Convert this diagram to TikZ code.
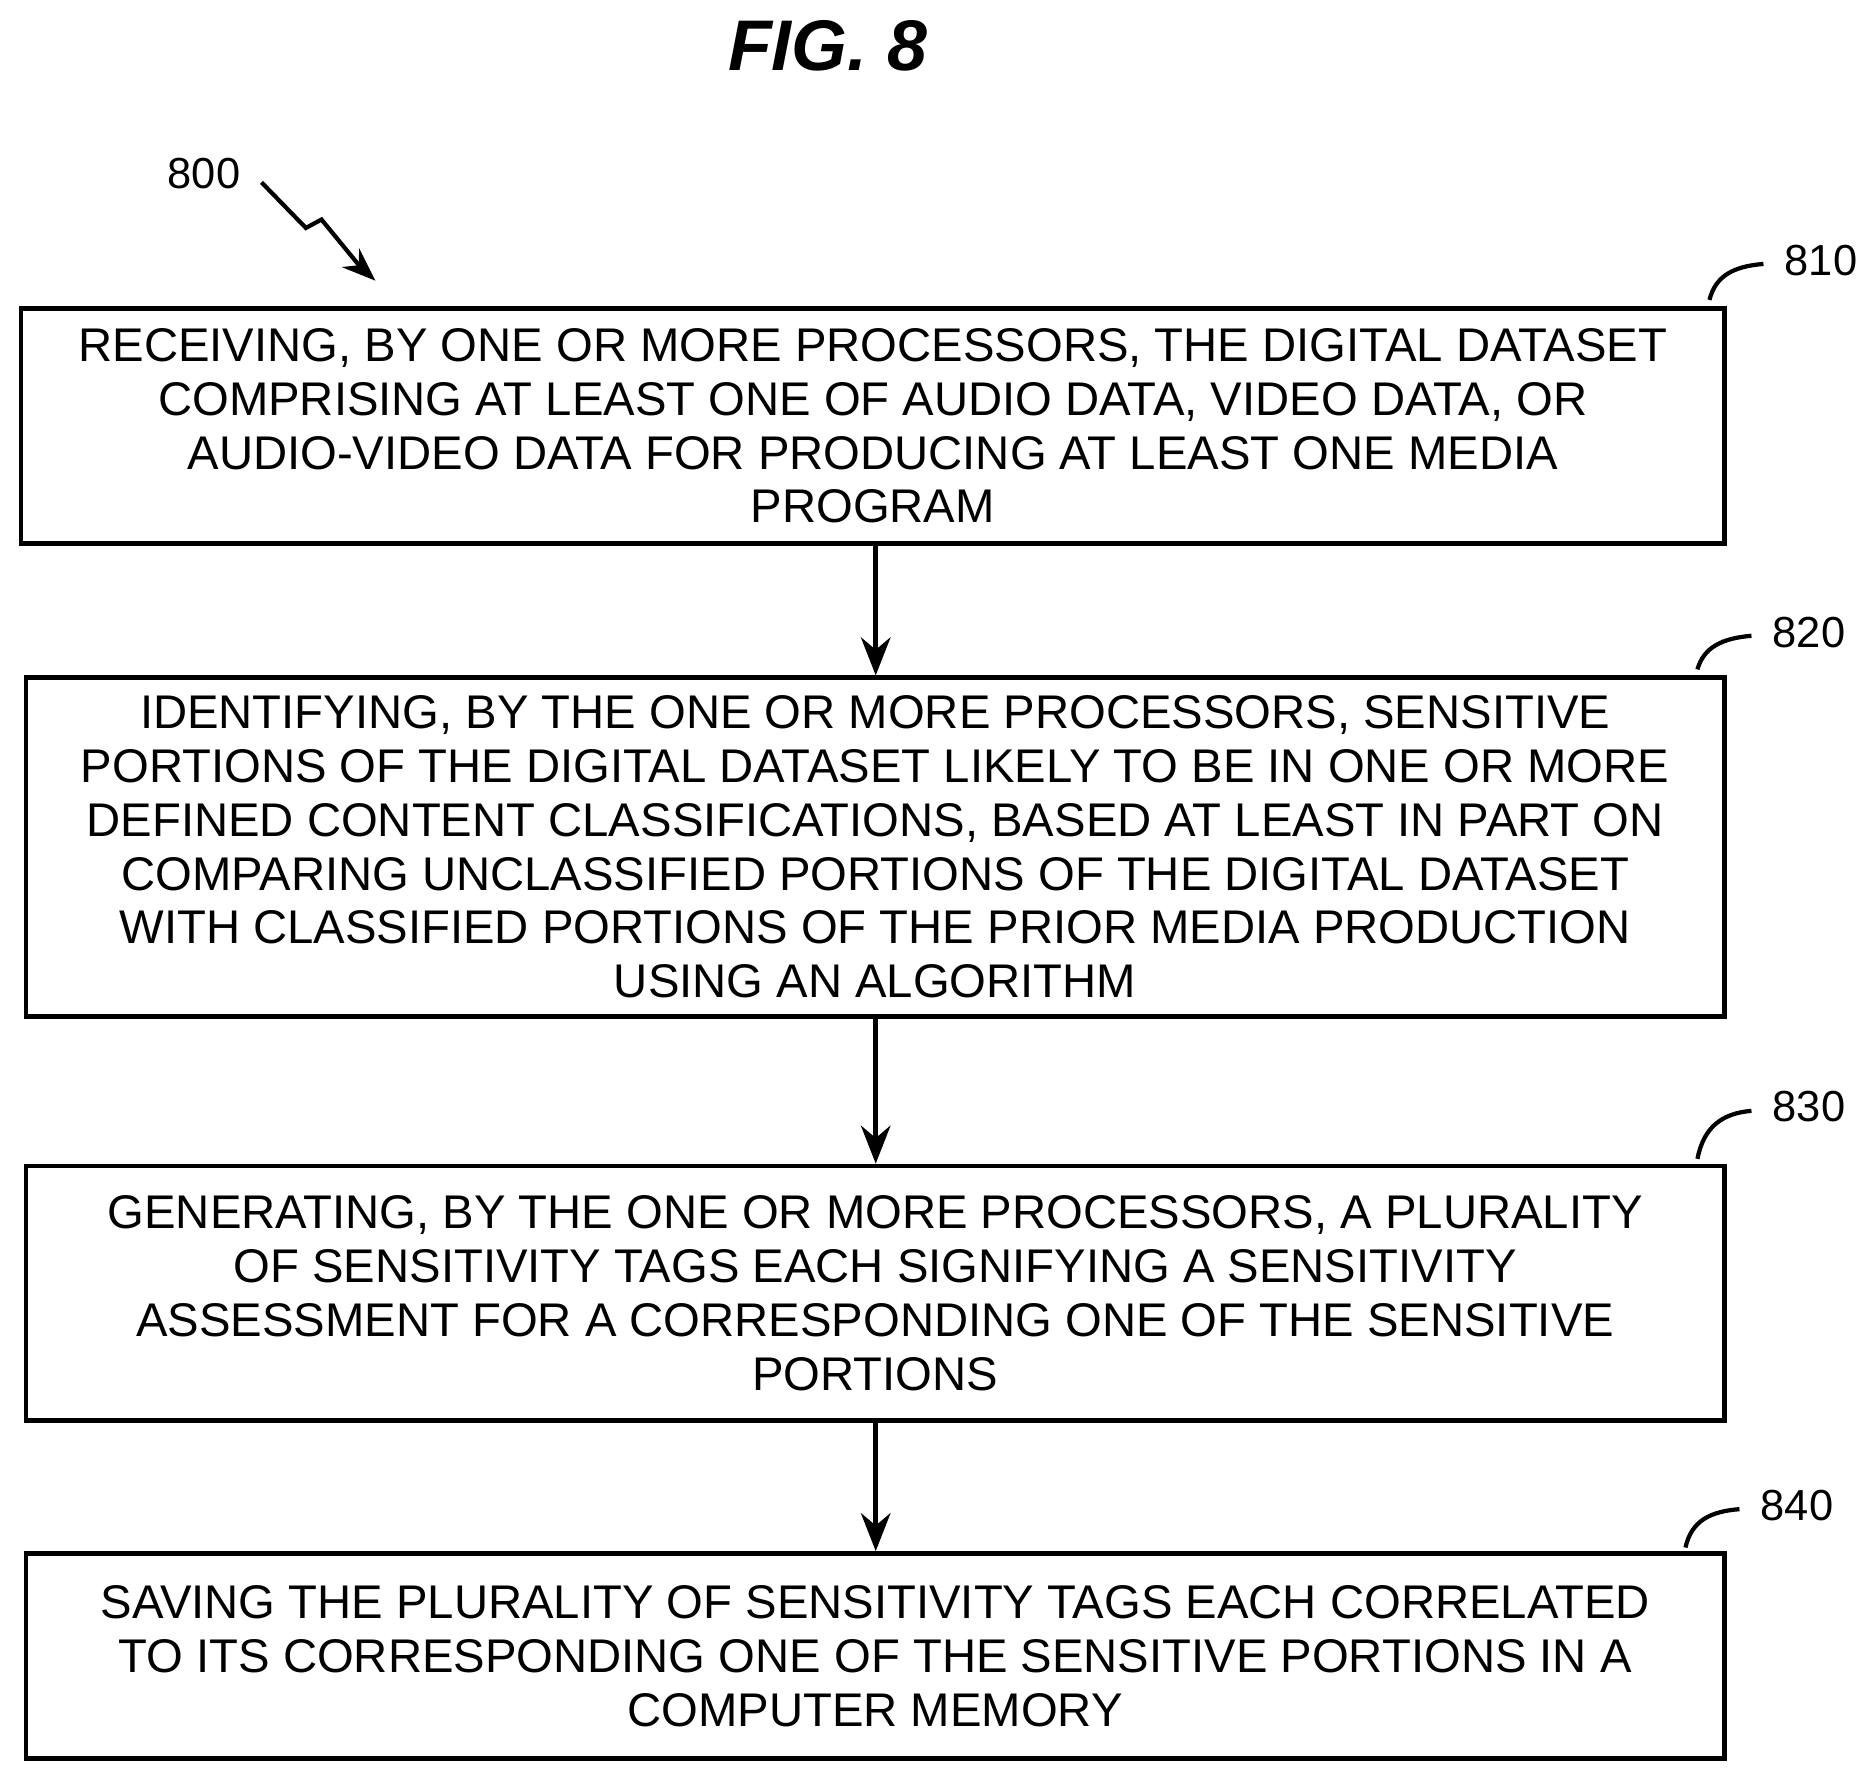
\documentclass[tikz,border=0pt]{standalone}
\usepackage{fontspec}
\setmainfont{Liberation Sans}
\usetikzlibrary{arrows.meta}
\begin{document}
\begin{tikzpicture}[x=0.01cm,y=-0.01cm, font=\fontsize{11.2}{12.75}\selectfont, line width=1.1pt]
\tikzset{stage/.style={draw, rectangle, align=center, inner sep=0pt},
         flow/.style={-{Stealth[length=9pt,width=7pt]}},
         tag/.style={font=\fontsize{10.3}{12}\selectfont}}
\useasboundingbox (0,0) rectangle (1563,1478);

\node(fig) at (690,38) {\fontsize{17}{20}\selectfont\bfseries\itshape FIG. 8};

\node(recv) [stage, minimum width=14.19cm, minimum height=1.96cm] at (727.5,355)
  {RECEIVING, BY ONE OR MORE PROCESSORS, THE DIGITAL DATASET\\
   COMPRISING AT LEAST ONE OF AUDIO DATA, VIDEO DATA, OR\\
   AUDIO-VIDEO DATA FOR PRODUCING AT LEAST ONE MEDIA\\
   PROGRAM};

\node(ident) [stage, minimum width=14.15cm, minimum height=2.82cm] at (729.5,706)
  {IDENTIFYING, BY THE ONE OR MORE PROCESSORS, SENSITIVE\\
   PORTIONS OF THE DIGITAL DATASET LIKELY TO BE IN ONE OR MORE\\
   DEFINED CONTENT CLASSIFICATIONS, BASED AT LEAST IN PART ON\\
   COMPARING UNCLASSIFIED PORTIONS OF THE DIGITAL DATASET\\
   WITH CLASSIFIED PORTIONS OF THE PRIOR MEDIA PRODUCTION\\
   USING AN ALGORITHM};

\node(gen) [stage, minimum width=14.15cm, minimum height=2.12cm] at (729.5,1078)
  {GENERATING, BY THE ONE OR MORE PROCESSORS, A PLURALITY\\
   OF SENSITIVITY TAGS EACH SIGNIFYING A SENSITIVITY\\
   ASSESSMENT FOR A CORRESPONDING ONE OF THE SENSITIVE\\
   PORTIONS};

\node(save) [stage, minimum width=14.15cm, minimum height=1.71cm] at (729.5,1380.5)
  {SAVING THE PLURALITY OF SENSITIVITY TAGS EACH CORRELATED\\
   TO ITS CORRESPONDING ONE OF THE SENSITIVE PORTIONS IN A\\
   COMPUTER MEMORY};

% connectors
\draw[flow] (recv.south -| 730,0) -- (ident.north -| 730,0);
\draw[flow] (ident.south -| 730,0) -- (gen.north -| 730,0);
\draw[flow] (gen.south -| 730,0) -- (save.north -| 730,0);

% reference numerals
\node(n800) [tag] at (170,145) {800};
\coordinate(z1) at (255,190);
\coordinate(z2) at (268,183);
\draw[line width=1pt] (218,152) -- (z1) -- (z2) -- (300,222);
\draw[line width=1pt, -{Stealth[length=8pt,width=6pt]}] (300,222) -- (313,234);

\node(n810) [tag] at (1518,217) {810};
\draw[line width=1pt] (1425,250) .. controls (1430,230) and (1445,222) .. (1470,220);
\node(n820) [tag] at (1508,527) {820};
\draw[line width=1pt] (1415,558) .. controls (1420,540) and (1435,532) .. (1460,530);
\node(n830) [tag] at (1508,922) {830};
\draw[line width=1pt] (1415,966) .. controls (1420,940) and (1435,928) .. (1460,926);
\node(n840) [tag] at (1498,1255) {840};
\draw[line width=1pt] (1405,1290) .. controls (1410,1268) and (1425,1260) .. (1450,1258);
\end{tikzpicture}
\end{document}
